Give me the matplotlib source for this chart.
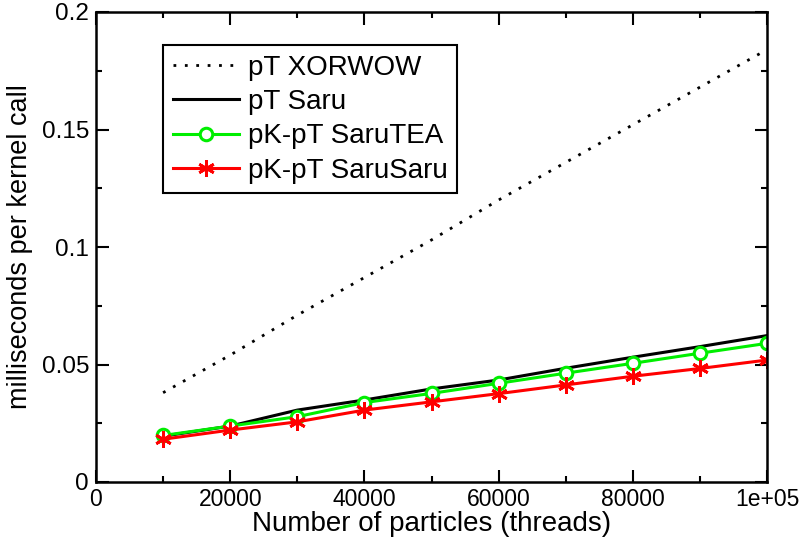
import matplotlib
matplotlib.use("Agg")
import matplotlib.pyplot as plt
from matplotlib.ticker import MultipleLocator, FixedLocator, FixedFormatter

plt.rcParams['font.family'] = ['Liberation Sans', 'DejaVu Sans']

particles = [10000, 20000, 30000, 40000, 50000, 60000, 70000, 80000, 90000, 100000]
xorwow = [0.038, 0.054, 0.071, 0.087, 0.103, 0.120, 0.136, 0.152, 0.168, 0.184]
saru = [0.0195, 0.0238, 0.0306, 0.0349, 0.0396, 0.0434, 0.0484, 0.0531, 0.0576, 0.0623]
sarutea = [0.0198, 0.0238, 0.0278, 0.0338, 0.0377, 0.0420, 0.0463, 0.0505, 0.0548, 0.0590]
sarusaru = [0.0182, 0.0221, 0.0256, 0.0306, 0.0341, 0.0376, 0.0413, 0.0450, 0.0483, 0.0519]

labels = ["pT XORWOW", "pT Saru", "pK-pT SaruTEA", "pK-pT SaruSaru"]
xticks = [0, 20000, 40000, 60000, 80000, 100000]
xticklabels = ["0", "20000", "40000", "60000", "80000", "1e+05"]
yticks = [0, 0.05, 0.1, 0.15, 0.2]
yticklabels = ["0", "0.05", "0.1", "0.15", "0.2"]

fig = plt.figure(figsize=(8.04, 5.44), dpi=100)
ax = fig.add_axes([96/804, 62/544, (767-96)/804, (482-12)/544])

ax.plot(particles, xorwow, color='black', lw=2.0, linestyle=(0, (1, 3.1)), label=labels[0])
ax.plot(particles, saru, color='black', lw=2.2, label=labels[1])
ax.plot(particles, sarutea, color='#00ee00', lw=2.2, marker='o', ms=9,
        mfc='white', mec='#00ee00', mew=2.2, label=labels[2])
ax.plot(particles, sarusaru, color='#ff0000', lw=2.2, marker=(6, 2, 0), ms=12,
        mec='#ff0000', mew=2.0, label=labels[3])

ax.set_xlim(0, 100000)
ax.set_ylim(0, 0.2)
ax.xaxis.set_major_locator(FixedLocator(xticks))
ax.xaxis.set_major_formatter(FixedFormatter(xticklabels))
ax.xaxis.set_minor_locator(MultipleLocator(10000))
ax.yaxis.set_major_locator(FixedLocator(yticks))
ax.yaxis.set_major_formatter(FixedFormatter(yticklabels))
ax.yaxis.set_minor_locator(MultipleLocator(0.025))

ax.tick_params(which='both', direction='in', top=True, right=True, width=1.5)
ax.tick_params(which='major', length=9)
ax.tick_params(which='minor', length=4.5)
ax.tick_params(axis='x', pad=4, labelsize=16.5)
ax.tick_params(axis='y', pad=5, labelsize=17.5)
for s in ax.spines.values():
    s.set_linewidth(1.8)

ax.set_xlabel("Number of particles (threads)", fontsize=20, labelpad=0)
ax.set_ylabel("milliseconds per kernel call", fontsize=19.5, labelpad=6)

leg = ax.legend(loc='upper left', bbox_to_anchor=(0.1, 0.93), fontsize=20,
                frameon=True, fancybox=False, framealpha=1, edgecolor='black',
                handlelength=2.4, handletextpad=0.3, labelspacing=0.3,
                borderpad=0.35, borderaxespad=0)
leg.get_frame().set_linewidth(1.5)

fig.savefig("out.png", dpi=100)
